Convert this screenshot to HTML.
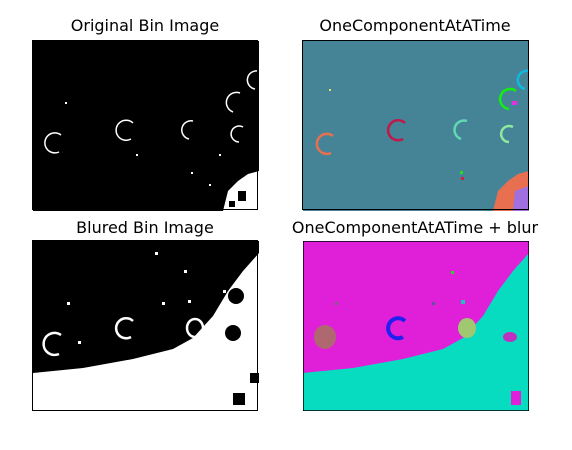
<!DOCTYPE html>
<html><head><meta charset="utf-8">
<style>
body{margin:0;width:572px;height:450px;background:#fff;overflow:hidden;font-family:"DejaVu Sans","Liberation Sans",sans-serif;}
.t{position:absolute;font-size:16px;color:#000;text-align:center;width:300px;line-height:18px;}
svg{position:absolute;}
</style></head><body>
<div class="t" style="left:-5px;top:17px">Original Bin Image</div>
<div class="t" style="left:265px;top:17px">OneComponentAtATime</div>
<div class="t" style="left:-5px;top:219px">Blured Bin Image</div>
<div class="t" style="left:265px;top:219px">OneComponentAtATime + blur</div>

<svg style="left:33px;top:41px" width="226" height="170" viewBox="0 0 226 170">
<rect x="0" y="0" width="226" height="170" fill="#000"/>
<g fill="none" stroke="#fff" stroke-width="1.5">
<path d="M28 94 A10 10 0 1 0 26 111"/>
<path d="M100 82 A10 10 0 1 0 98 98"/>
<path d="M160 80 A9 9 0 0 0 156 98"/>
<path d="M210 86 A8 8 0 1 0 206 101"/>
<path d="M207 52 A10 10 0 1 0 200 71"/>
<path d="M225 30 A8 8 0 1 0 222 48"/>
</g>
<path d="M190 170 L195 150 L205 140 L215 133 L226 130 L226 170 Z" fill="#fff"/>
<g fill="#000"><rect x="205" y="150" width="8" height="10"/><rect x="196" y="160" width="6" height="6"/></g>
<g fill="#fff"><rect x="32" y="61" width="2" height="2"/><rect x="176" y="143" width="2" height="2"/><rect x="158" y="131" width="2" height="2"/><rect x="186" y="113" width="2" height="2"/><rect x="103" y="113" width="2" height="2"/></g>
</svg>

<svg style="left:303px;top:41px" width="226" height="170" viewBox="0 0 226 170">
<rect x="0" y="0" width="226" height="170" fill="#458397"/>
<g fill="none" stroke-width="2.5">
<path d="M30 95 A10 10 0 1 0 28 112" stroke="#e87050"/>
<path d="M102 82 A10 10 0 1 0 100 98" stroke="#c01848"/>
<path d="M164 80 A9 9 0 0 0 158 98" stroke="#60d8b0"/>
<path d="M210 86 A8 8 0 1 0 206 101" stroke="#90e8a0"/>
<path d="M213 50 A10 10 0 1 0 206 68" stroke="#10f010"/>
<path d="M226 30 A8 8 0 1 0 222 48" stroke="#10b8e0"/>
</g>
<path d="M190 170 L195 150 L205 140 L215 133 L226 130 L226 170 Z" fill="#e87050"/>
<path d="M212 150 L226 145 L226 170 L210 170 Z" fill="#a070e0"/>
<g><rect x="209" y="60" width="5" height="4" fill="#e030e0"/><rect x="26" y="48" width="2" height="2" fill="#e0e060"/><rect x="157" y="130" width="3" height="3" fill="#20e020"/><rect x="158" y="136" width="3" height="3" fill="#d02040"/></g>
</svg>

<svg style="left:33px;top:241px" width="226" height="170" viewBox="0 0 226 170">
<rect x="0" y="0" width="226" height="170" fill="#000"/>
<path d="M0 132 L50 127 L100 118 L140 108 L160 97 L180 75 L195 50 L210 30 L226 12 L226 170 L0 170 Z" fill="#fff"/>
<g fill="none" stroke="#fff" stroke-width="2.5">
<path d="M28 94 A11 11 0 1 0 26 113"/>
<path d="M100 80 A10 10 0 1 0 98 96"/>
<ellipse cx="162" cy="87" rx="8" ry="9"/>
</g>
<g fill="#000"><circle cx="203" cy="55" r="8"/><circle cx="200" cy="92" r="8"/><rect x="200" y="152" width="12" height="12"/><rect x="217" y="132" width="9" height="10"/></g>
<g fill="#fff"><rect x="34" y="61" width="3" height="3"/><rect x="129" y="61" width="3" height="3"/><rect x="155" y="59" width="3" height="3"/><rect x="122" y="11" width="3" height="3"/><rect x="151" y="29" width="3" height="3"/><rect x="190" y="49" width="3" height="3"/><rect x="45" y="100" width="3" height="3"/></g>
</svg>

<svg style="left:303px;top:241px" width="226" height="170" viewBox="0 0 226 170">
<rect x="0" y="0" width="226" height="170" fill="#e020d8"/>
<path d="M0 132 L50 127 L100 118 L140 108 L160 97 L180 75 L195 50 L210 30 L226 12 L226 170 L0 170 Z" fill="#08dcc0"/>
<ellipse cx="22" cy="96" rx="11" ry="12" fill="#b06870"/>
<path d="M102 80 A10 10 0 1 0 100 96" fill="none" stroke="#2020f0" stroke-width="4"/>
<ellipse cx="164" cy="87" rx="9" ry="10" fill="#a0c870"/>
<ellipse cx="207" cy="96" rx="7" ry="5" fill="#c030c0"/>
<rect x="208" y="150" width="10" height="14" fill="#e020d8"/>
<g><rect x="32" y="61" width="3" height="3" fill="#806080"/><rect x="129" y="61" width="3" height="3" fill="#6050a0"/><rect x="158" y="59" width="4" height="4" fill="#20c0c0"/><rect x="148" y="30" width="3" height="3" fill="#30d030"/></g>
<rect x="0" y="0" width="226" height="170" fill="none" stroke="#000" stroke-width="1.5"/>
</svg>
<div style="position:absolute;left:32px;top:40px;width:226px;height:170px;border:1px solid #000;box-sizing:border-box"></div>
<div style="position:absolute;left:302px;top:40px;width:227px;height:170px;border:1px solid #000;box-sizing:border-box"></div>
<div style="position:absolute;left:32px;top:240px;width:226px;height:171px;border:1px solid #000;box-sizing:border-box"></div>
</body></html>
